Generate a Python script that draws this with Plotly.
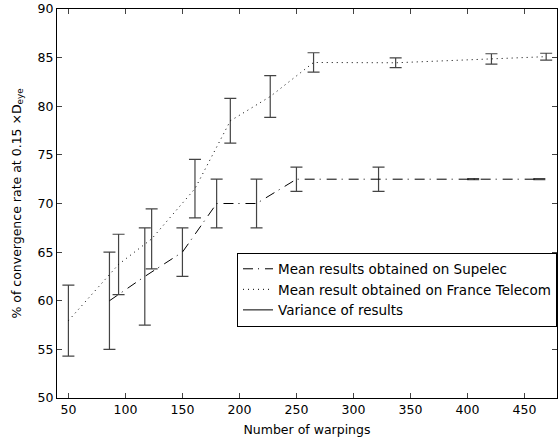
import plotly.graph_objects as go

# Supelec (dash-dot)
sup_x = [86, 117, 150, 180, 215, 250, 322, 405, 463]
sup_y = [60, 62.5, 65, 70, 70, 72.5, 72.5, 72.5, 72.5]
sup_err = [5, 5, 2.5, 2.5, 2.5, 1.25, 1.25, 0.05, 0.05]

# France Telecom (dotted)
ft_x = [50, 94, 123, 161, 192, 227, 265, 337, 421, 469]
ft_y = [57.95, 63.74, 66.36, 71.53, 78.5, 81.0, 84.5, 84.47, 84.87, 85.1]
ft_err = [3.65, 3.1, 3.08, 3.0, 2.3, 2.15, 1.0, 0.5, 0.53, 0.35]

names = ["Mean results obtained on Supelec",
         "Mean result obtained on France Telecom",
         "Variance of results"]

x_ticks = [50, 100, 150, 200, 250, 300, 350, 400, 450]
y_ticks = [50, 55, 60, 65, 70, 75, 80, 85, 90]

FONT = "DejaVu Sans"
err_style = dict(type="data", visible=True, color="#444444", thickness=1.2, width=6)

fig = go.Figure()
fig.add_trace(go.Scatter(
    x=sup_x, y=sup_y, mode="lines", name=names[0],
    line=dict(color="black", width=1, dash="10px,5px,1px,6px"),
    error_y=dict(array=sup_err, **err_style)))
fig.add_trace(go.Scatter(
    x=ft_x, y=ft_y, mode="lines", name=names[1],
    line=dict(color="black", width=1, dash="1px,4px"),
    error_y=dict(array=ft_err, **err_style)))
fig.add_trace(go.Scatter(
    x=[None], y=[None], mode="lines", name=names[2],
    line=dict(color="black", width=1)))

fig.update_layout(
    width=559, height=443,
    margin=dict(l=57, r=2, t=9, b=45),
    paper_bgcolor="white", plot_bgcolor="white",
    font=dict(family=FONT, size=12.5, color="black"),
    showlegend=True,
    legend=dict(x=1, y=0.374, xanchor="right", yanchor="top",
                bgcolor="white", bordercolor="black", borderwidth=1,
                font=dict(family=FONT, size=13.5), tracegroupgap=0,
                itemwidth=30),
    xaxis=dict(range=[40, 478.5], tickvals=x_ticks, ticks="inside", ticklen=5,
               showline=True, mirror="ticks", linecolor="black", linewidth=1,
               showgrid=False, zeroline=False, automargin=False,
               title=dict(text="Number of warpings", standoff=9,
                          font=dict(family=FONT, size=12.5))),
    yaxis=dict(range=[50, 90], tickvals=y_ticks, ticks="inside", ticklen=5,
               showline=True, mirror="ticks", linecolor="black", linewidth=1,
               showgrid=False, zeroline=False, automargin=False,
               title=dict(text="% of convergence rate at 0.15 ×D<sub>eye</sub>",
                          standoff=13, font=dict(family=FONT, size=12.5))),
)

fig.write_html("out.html", config={"displayModeBar": False},
               post_script="document.body.style.margin='0';document.body.style.overflow='hidden';")
